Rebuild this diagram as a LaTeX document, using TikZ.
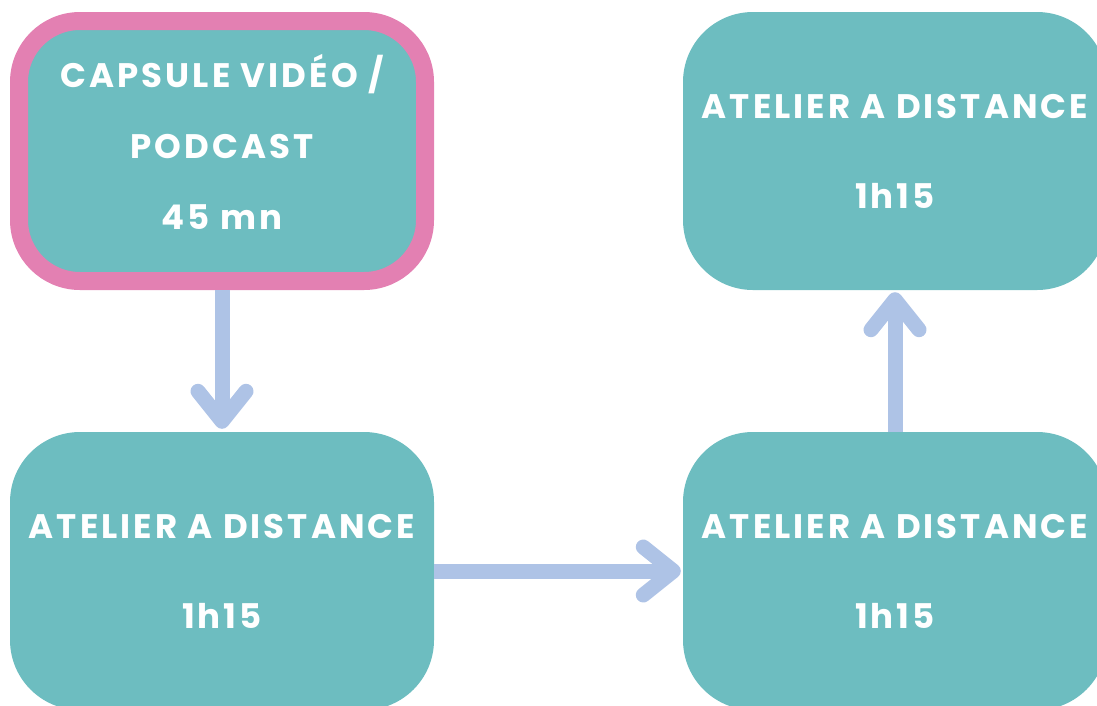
\documentclass[tikz,border=0pt]{standalone}
\usepackage{fontspec}
\setmainfont{Poppins}[LetterSpace=9]
\usetikzlibrary{arrows.meta}

\definecolor{teal}{HTML}{6DBDC0}
\definecolor{pinkline}{HTML}{E380B2}
\definecolor{arrowblue}{HTML}{AEC3E6}

\tikzset{
	stage/.style={rectangle, rounded corners=70pt, fill=teal, text=white,
		minimum width=424pt, minimum height=278pt, align=center, text depth=-8pt,
		font=\fontsize{34}{90}\selectfont\bfseries},
	capsule/.style={stage, draw=pinkline, line width=18pt, rounded corners=61pt,
		minimum width=406pt, minimum height=260pt, text depth=18pt,
		font=\fontsize{34}{71}\selectfont\bfseries},
	flow/.style={draw=arrowblue, line width=15pt,
		-{Straight Barb[round, length=30pt, width=48pt]}},
}

\begin{document}
\begin{tikzpicture}[x=1pt, y=-1pt]
	\path[use as bounding box, clip] (0,0) rectangle (1097,705);

	\node[capsule] (capsule) at (222,151) {CAPSULE VIDÉO /\\PODCAST\\45 mn};
	\node[stage] (atelier1) at (222,571) {ATELIER A DISTANCE\\1h15};
	\node[stage] (atelier2) at (895,571) {ATELIER A DISTANCE\\1h15};
	\node[stage] (atelier3) at (895,151) {ATELIER A DISTANCE\\1h15};

	\draw[flow, shorten >=3pt] (capsule.south) -- (atelier1.north);
	\draw[flow, shorten >=2pt] (atelier1.east) -- (atelier2.west);
	\draw[flow, shorten >=2pt] (atelier2.north) -- (atelier3.south);
\end{tikzpicture}
\end{document}
